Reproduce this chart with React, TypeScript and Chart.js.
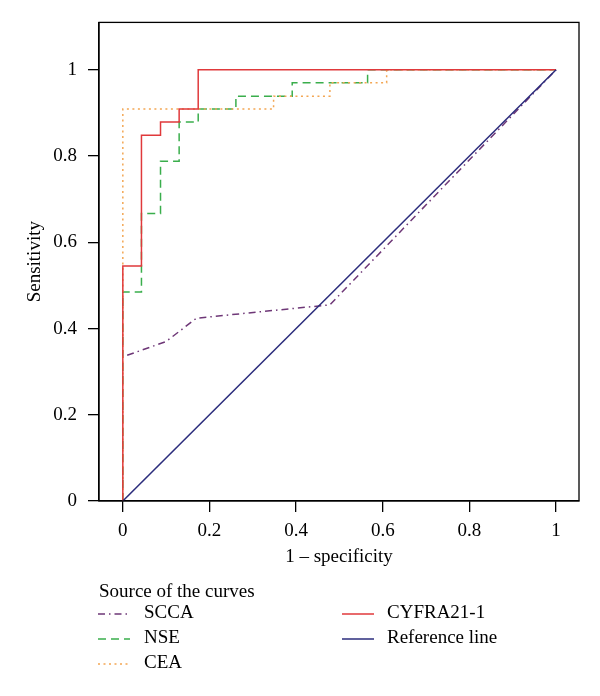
import React, { useEffect, useRef } from "react";
import { Chart, registerables } from "chart.js";

Chart.register(...registerables);

// ROC curve points (1 - specificity, sensitivity)
const sccaX = [0.01, 0.1, 0.17, 0.478, 1];
const sccaY = [0.338, 0.37, 0.424, 0.455, 1];

const nseX = [0, 0, 0.043, 0.043, 0.087, 0.087, 0.13, 0.13, 0.174, 0.174, 0.261, 0.261, 0.391, 0.391, 0.565, 0.565, 1];
const nseY = [0, 0.485, 0.485, 0.667, 0.667, 0.788, 0.788, 0.879, 0.879, 0.909, 0.909, 0.939, 0.939, 0.97, 0.97, 1, 1];

const ceaX = [0, 0, 0.348, 0.348, 0.478, 0.478, 0.609, 0.609, 1];
const ceaY = [0, 0.909, 0.909, 0.939, 0.939, 0.97, 0.97, 1, 1];

const cyfraX = [0, 0, 0.043, 0.043, 0.087, 0.087, 0.13, 0.13, 0.174, 0.174, 1];
const cyfraY = [0, 0.545, 0.545, 0.848, 0.848, 0.879, 0.879, 0.909, 0.909, 1, 1];

const refX = [0, 1];
const refY = [0, 1];

const tickValues = [0, 0.2, 0.4, 0.6, 0.8, 1];
const tickLabels = ["0", "0.2", "0.4", "0.6", "0.8", "1"];

const FONT = "'Liberation Serif', 'DejaVu Serif', serif";

const zip = (xs: number[], ys: number[]) => xs.map((x, i) => ({ x, y: ys[i] }));

const series = [
  { label: "SCCA", x: sccaX, y: sccaY, color: "#6e3777", dash: [7, 4, 1.5, 4], order: 4 },
  { label: "NSE", x: nseX, y: nseY, color: "#3aae4c", dash: [8, 5], order: 3 },
  { label: "CEA", x: ceaX, y: ceaY, color: "#f3a653", dash: [2, 3.5], order: 2 },
  { label: "CYFRA21-1", x: cyfraX, y: cyfraY, color: "#e0393b", dash: [], order: 1 },
  { label: "Reference line", x: refX, y: refY, color: "#2b2c7c", dash: [], order: 0 },
];

const decorPlugin = {
  id: "decor",
  afterDraw(chart: any) {
    const { ctx, chartArea } = chart;
    const { left, right, top, bottom } = chartArea;
    ctx.save();
    // frame
    ctx.strokeStyle = "#000";
    ctx.lineWidth = 1.3;
    ctx.setLineDash([]);
    ctx.strokeRect(left, top, right - left, bottom - top);

    ctx.fillStyle = "#000";
    ctx.font = `19px ${FONT}`;
    ctx.textBaseline = "middle";
    // x title
    ctx.textAlign = "center";
    ctx.fillText("1 \u2013 specificity", (left + right) / 2, 557);
    // y title
    ctx.save();
    ctx.translate(35, (top + bottom) / 2);
    ctx.rotate(-Math.PI / 2);
    ctx.fillText("Sensitivity", 0, 0);
    ctx.restore();

    // legend
    ctx.textAlign = "left";
    ctx.fillText("Source of the curves", 99, 592);
    const positions = [
      { lx: 98, tx: 144, y: 613 },
      { lx: 98, tx: 144, y: 638 },
      { lx: 98, tx: 144, y: 663 },
      { lx: 342, tx: 387, y: 613 },
      { lx: 342, tx: 387, y: 638 },
    ];
    series.forEach((s, i) => {
      const p = positions[i];
      ctx.strokeStyle = s.color;
      ctx.lineWidth = 1.5;
      ctx.setLineDash(s.dash);
      ctx.beginPath();
      ctx.moveTo(p.lx, p.y + 1);
      ctx.lineTo(p.lx + 32, p.y + 1);
      ctx.stroke();
      ctx.setLineDash([]);
      ctx.fillStyle = "#000";
      ctx.fillText(s.label, p.tx, p.y);
    });
    ctx.restore();
  },
};

export default function App() {
  const ref = useRef<HTMLCanvasElement>(null);
  useEffect(() => {
    document.body.style.margin = "0";
    const canvas = ref.current!;
    const chart = new Chart(canvas, {
      type: "line",
      data: {
        datasets: series.map((s) => ({
          label: s.label,
          data: zip(s.x, s.y),
          borderColor: s.color,
          borderWidth: 1.5,
          borderDash: s.dash,
          borderCapStyle: "butt",
          pointRadius: 0,
          fill: false,
          tension: 0,
          order: s.order,
        })),
      },
      options: {
        animation: false,
        responsive: false,
        maintainAspectRatio: false,
        layout: { padding: { left: 0, top: 21, right: 21, bottom: 0 } },
        plugins: { legend: { display: false }, tooltip: { enabled: false } },
        scales: {
          x: {
            type: "linear",
            min: -0.055,
            max: 1.053,
            afterFit(scale: any) {
              scale.height = 195;
            },
            afterBuildTicks(scale: any) {
              scale.ticks = tickValues.map((v) => ({ value: v }));
            },
            ticks: {
              autoSkip: false,
              maxRotation: 0,
              padding: 8,
              color: "#000",
              font: { family: FONT, size: 19 },
              callback: (v: any) => tickLabels[tickValues.indexOf(Number(v))] ?? "",
            },
            grid: {
              drawOnChartArea: false,
              drawTicks: true,
              tickLength: 11,
              color: "#000",
              lineWidth: 1.3,
            },
            border: { display: true, color: "#000", width: 1.3 },
          },
          y: {
            type: "linear",
            min: 0,
            max: 1.11,
            afterFit(scale: any) {
              scale.width = 99;
            },
            afterBuildTicks(scale: any) {
              scale.ticks = tickValues.map((v) => ({ value: v }));
            },
            ticks: {
              autoSkip: false,
              padding: 11,
              color: "#000",
              font: { family: FONT, size: 19 },
              callback: (v: any) => tickLabels[tickValues.indexOf(Number(v))] ?? "",
            },
            grid: {
              drawOnChartArea: false,
              drawTicks: true,
              tickLength: 11,
              color: "#000",
              lineWidth: 1.3,
            },
            border: { display: true, color: "#000", width: 1.3 },
          },
        },
      },
      plugins: [decorPlugin],
    } as any);
    return () => chart.destroy();
  }, []);
  return <canvas ref={ref} width={600} height={696} style={{ display: "block" }} />;
}
